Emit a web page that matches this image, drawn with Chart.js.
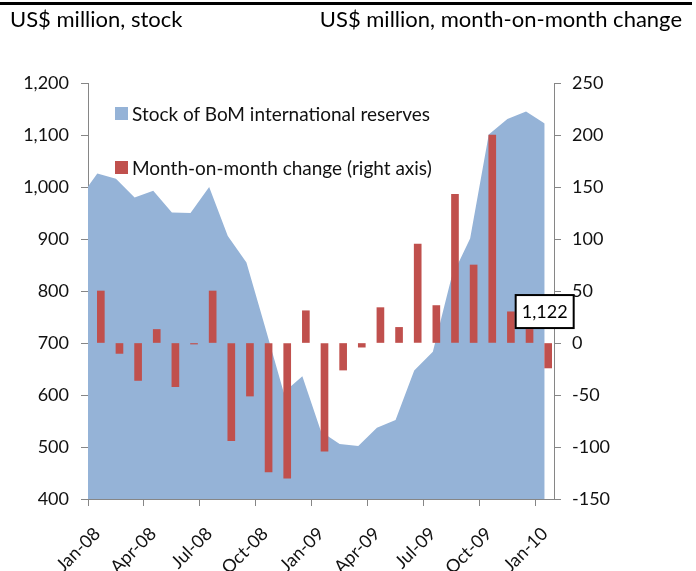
<!DOCTYPE html>
<html>
<head>
<meta charset="utf-8">
<script src="https://cdn.jsdelivr.net/npm/chart.js@4.4.1/dist/chart.umd.min.js"></script>
<style>
  body { margin: 0; background: #fff; font-family: Lato, sans-serif; }
  #wrap { position: relative; width: 696px; height: 571px; overflow: hidden; }
  #reservesChart { position: absolute; left: 0; top: 0; }
  #rule { position: absolute; left: 0; top: 2px; width: 692px; height: 3px; background: #000; }
  .unit { position: absolute; top: 5px; font-size: 22px; color: #000; white-space: nowrap; }
  #legend { position: absolute; margin: 0; padding: 0; list-style: none; font-size: 19px; color: #111; }
  #legend li { display: flex; align-items: center; height: 54px; white-space: nowrap; }
  #legend span { display: inline-block; width: 13px; height: 13px; margin-right: 4px; }
</style>
</head>
<body>
<div id="wrap">
  <canvas id="reservesChart" width="696" height="571"></canvas>
  <div id="rule"></div>
  <div class="unit" style="left:10px">US$ million, stock</div>
  <div class="unit" style="right:14px">US$ million, month-on-month change</div>
  <ul id="legend"></ul>
</div>
<script>
  const months = ['Jan-08', 'Feb-08', 'Mar-08', 'Apr-08', 'May-08', 'Jun-08', 'Jul-08', 'Aug-08', 'Sep-08',
    'Oct-08', 'Nov-08', 'Dec-08', 'Jan-09', 'Feb-09', 'Mar-09', 'Apr-09', 'May-09', 'Jun-09', 'Jul-09',
    'Aug-09', 'Sep-09', 'Oct-09', 'Nov-09', 'Dec-09', 'Jan-10'];

  // stock at end of Dec-07, only the sliver left of Jan-08 shows
  const stockDec07 = 976;
  const stock = [1026, 1016, 980, 993, 951, 950, 1000, 906, 855, 731, 605, 636, 530,
    506, 502, 537, 552, 647, 683, 826, 901, 1101, 1131, 1145, 1122];
  const change = [50, -10, -36, 13, -42, -1, 50, -94, -51, -124, -130, 31, -104,
    -26, -4, 34, 15, 95, 36, 143, 75, 200, 30, 13, -24];

  const leftTicks = [400, 500, 600, 700, 800, 900, 1000, 1100, 1200];
  const rightTicks = [-150, -100, -50, 0, 50, 100, 150, 200, 250];

  const axisGrey = '#868686';
  const tickFont = { family: 'Lato', size: 18 };

  const stockPoints = [{ x: -1, y: stockDec07 }].concat(stock.map((v, i) => ({ x: i, y: v })));

  // html legend, sits inside the plot area
  const htmlLegend = {
    id: 'htmlLegend',
    afterUpdate(chart) {
      const ul = document.getElementById('legend');
      ul.innerHTML = '';
      ul.style.left = (chart.chartArea.left + 27) + 'px';
      ul.style.top = (chart.chartArea.top + 3) + 'px';
      chart.data.datasets.forEach(ds => {
        const li = document.createElement('li');
        const box = document.createElement('span');
        box.style.background = ds.backgroundColor;
        li.appendChild(box);
        li.appendChild(document.createTextNode(ds.label));
        ul.appendChild(li);
      });
    }
  };

  // boxed label for the last stock value (moved below the point, as in the original)
  const lastLabel = {
    id: 'lastLabel',
    afterDatasetsDraw(chart) {
      const meta = chart.getDatasetMeta(0);
      const pt = meta.data[meta.data.length - 1];
      const ctx = chart.ctx;
      const text = stock[stock.length - 1].toLocaleString('en-US');
      const w = 58, h = 33;
      const cx = pt.x, cy = pt.y + 188;
      ctx.save();
      ctx.fillStyle = '#fff';
      ctx.fillRect(cx - w / 2, cy - h / 2, w, h);
      ctx.strokeStyle = '#000';
      ctx.lineWidth = 2;
      ctx.strokeRect(cx - w / 2, cy - h / 2, w, h);
      ctx.fillStyle = '#000';
      ctx.font = '18px Lato';
      ctx.textAlign = 'center';
      ctx.textBaseline = 'middle';
      ctx.fillText(text, cx, cy + 1);
      ctx.restore();
    }
  };

  const ctx = document.getElementById('reservesChart').getContext('2d');

  new Chart(ctx, {
    type: 'bar',
    data: {
      labels: months,
      datasets: [{
        type: 'line',
        label: 'Stock of BoM international reserves',
        data: stockPoints,
        xAxisID: 'xs',
        yAxisID: 'y',
        backgroundColor: '#95B3D7',
        borderWidth: 0,
        pointRadius: 0,
        fill: 'start',
        tension: 0,
        order: 1
      }, {
        label: 'Month-on-month change (right axis)',
        data: change,
        xAxisID: 'x',
        yAxisID: 'y1',
        backgroundColor: '#C0504D',
        borderWidth: 0,
        barThickness: 7,
        order: 0
      }]
    },
    options: {
      responsive: false,
      animation: false,
      layout: { padding: { top: 83, left: 0, right: 0, bottom: 0 } },
      plugins: {
        legend: { display: false },
        tooltip: { enabled: false }
      },
      scales: {
        x: {
          type: 'category',
          offset: true,
          afterFit(scale) { scale.height = 72; },
          border: { display: true, color: axisGrey },
          grid: {
            offset: true,
            drawOnChartArea: false,
            tickLength: 7,
            color: c => (c.index % 3 === 0 ? axisGrey : 'rgba(0,0,0,0)')
          },
          ticks: {
            autoSkip: false,
            maxRotation: 45,
            minRotation: 45,
            padding: 17,
            color: '#111',
            font: tickFont,
            callback(val, i) { return i % 3 === 0 ? this.getLabelForValue(val) : ''; }
          }
        },
        xs: {
          type: 'linear',
          display: false,
          offset: false,
          grid: { offset: false },
          min: -0.5,
          max: 24.5
        },
        y: {
          position: 'left',
          min: 400,
          max: 1200,
          afterFit(scale) { scale.width = 88; },
          afterBuildTicks(scale) { scale.ticks = leftTicks.map(v => ({ value: v })); },
          border: { display: true, color: axisGrey },
          grid: { drawOnChartArea: false, tickLength: 7, color: axisGrey },
          ticks: {
            padding: 12,
            color: '#111',
            font: tickFont,
            callback: v => v.toLocaleString('en-US')
          }
        },
        y1: {
          position: 'right',
          min: -150,
          max: 250,
          afterFit(scale) { scale.width = 142; },
          afterBuildTicks(scale) { scale.ticks = rightTicks.map(v => ({ value: v })); },
          border: { display: true, color: axisGrey },
          grid: { drawOnChartArea: false, tickLength: 7, color: axisGrey },
          ticks: {
            padding: 11,
            color: '#111',
            font: tickFont
          }
        }
      }
    },
    plugins: [htmlLegend, lastLabel]
  });
</script>
</body>
</html>
